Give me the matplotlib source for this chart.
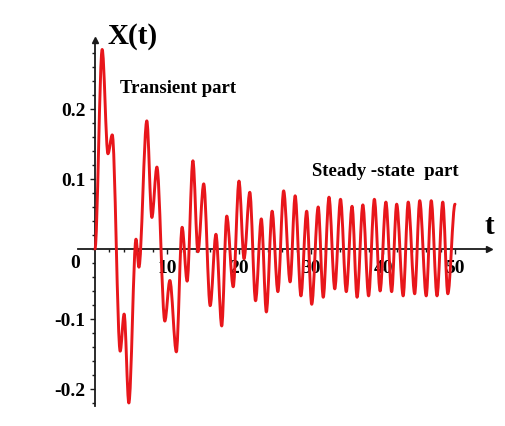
import numpy as np
import matplotlib.pyplot as plt
from matplotlib.path import Path
from matplotlib.patches import PathPatch

# turning points of the response x(t): time and value
t_ext = [0.0, 1.0, 1.8, 2.4, 3.5, 4.05, 4.7, 5.7, 6.1, 7.2, 7.9, 8.6, 9.7, 10.4,
         11.3, 12.1, 12.8, 13.6, 14.3, 15.1, 16.0, 16.8, 17.6, 18.3, 19.2, 20.0,
         20.7, 21.5, 22.3, 23.1, 23.8, 24.6, 25.4, 26.2, 27.1, 27.8, 28.6, 29.4,
         30.1, 31.0, 31.7, 32.5, 33.3, 34.1, 34.9, 35.7, 36.4, 37.2, 38.0, 38.8,
         39.6, 40.4, 41.2, 41.9, 42.8, 43.5, 44.4, 45.1, 46.0, 46.7, 47.5, 48.3,
         49.0, 50.0]
x_ext = [0.0, 0.285, 0.136, 0.163, -0.146, -0.093, -0.220, 0.014, -0.026, 0.183,
         0.045, 0.117, -0.103, -0.045, -0.147, 0.031, -0.046, 0.126, -0.004, 0.093,
         -0.081, 0.021, -0.110, 0.047, -0.054, 0.097, -0.014, 0.081, -0.074, 0.043,
         -0.090, 0.054, -0.061, 0.083, -0.047, 0.076, -0.067, 0.054, -0.079, 0.060,
         -0.069, 0.074, -0.057, 0.071, -0.061, 0.061, -0.069, 0.063, -0.067, 0.071,
         -0.060, 0.067, -0.061, 0.064, -0.067, 0.067, -0.064, 0.069, -0.067, 0.069,
         -0.067, 0.067, -0.064, 0.064]

y_ticks = [-0.2, -0.1, 0.1, 0.2]
y_labels = ['-0.2', '-0.1', '0.1', '0.2']
x_ticks = [10, 20, 30, 40, 50]
x_labels = ['10', '20', '30', '40', '50']

serif = 'Liberation Serif'
axis_col = '#1a1a1a'
curve_col = '#e8161b'

fig = plt.figure(figsize=(5.06, 4.27), dpi=100)
ax = fig.add_axes([0, 0, 1, 1])
ax.set_xlim(-13.19, 57.08)
ax.set_ylim(-0.2529, 0.3571)

# smooth curve: cubic pieces with flat tangents at each turning point
verts = [(t_ext[0], x_ext[0])]
codes = [Path.MOVETO]
for i in range(1, len(t_ext)):
    t0, x0, t1, x1 = t_ext[i - 1], x_ext[i - 1], t_ext[i], x_ext[i]
    dt = t1 - t0
    verts += [(t0 + dt / 3, x0), (t1 - dt / 3, x1), (t1, x1)]
    codes += [Path.CURVE4] * 3
ax.add_patch(PathPatch(Path(verts, codes), fill=False, edgecolor=curve_col,
                       lw=2.1, capstyle='round', joinstyle='round', zorder=3))

# axes through the origin
for side in ['top', 'right']:
    ax.spines[side].set_visible(False)
ax.spines['left'].set_position(('data', 0))
ax.spines['bottom'].set_position(('data', 0))
ax.spines['left'].set_bounds(-0.224, 0.298)
ax.spines['bottom'].set_bounds(-2.4, 54.5)
for side in ['left', 'bottom']:
    ax.spines[side].set_color(axis_col)
    ax.spines[side].set_linewidth(1.3)
ax.plot(0, 0.299, marker='^', ms=5, color=axis_col, clip_on=False)
ax.plot(54.7, 0, marker='>', ms=5, color=axis_col, clip_on=False)

ax.set_yticks(y_ticks)
ax.set_yticklabels(y_labels)
ax.set_yticks(np.arange(-0.22, 0.29, 0.02), minor=True)
ax.set_xticks(x_ticks)
ax.set_xticklabels(x_labels)
ax.set_xticks(np.arange(2, 50, 2), minor=True)
ax.tick_params(which='both', direction='out', color=axis_col, width=1.0)
ax.tick_params(which='major', length=3.5, pad=3.5)
ax.tick_params(which='minor', length=2.5)
for lab in ax.get_xticklabels() + ax.get_yticklabels():
    lab.set_fontfamily(serif)
    lab.set_fontweight('bold')
    lab.set_fontsize(14)

ax.text(-2.8, -0.019, '0', ha='center', va='center', fontfamily=serif,
        fontweight='bold', fontsize=14)
ax.text(1.8, 0.305, 'X(t)', ha='left', va='center', fontfamily=serif,
        fontweight='bold', fontsize=21)
ax.text(54.7, 0.034, 't', ha='center', va='center', fontfamily=serif,
        fontweight='bold', fontsize=21)
ax.text(3.5, 0.231, 'Transient part', ha='left', va='center', fontfamily=serif,
        fontweight='bold', fontsize=13.5)
ax.text(30.1, 0.112, 'Steady -state  part', ha='left', va='center',
        fontfamily=serif, fontweight='bold', fontsize=13.5)

fig.savefig('out.png', dpi=100)
